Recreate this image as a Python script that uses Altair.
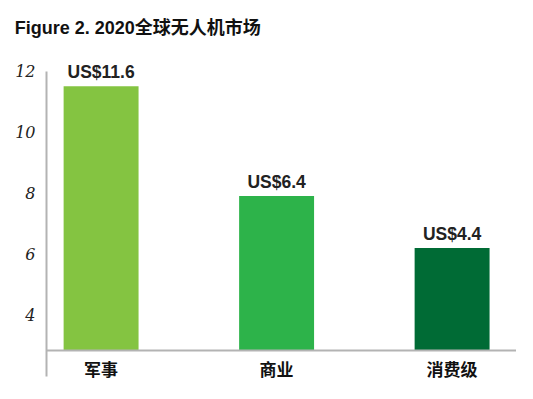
import altair as alt
import pandas as pd

categories = ["军事", "商业", "消费级"]
bar_values = [11.5, 7.9, 6.2]
value_labels = ["US$11.6", "US$6.4", "US$4.4"]
colors = ["#84c441", "#2db34a", "#006b35"]
baseline = 2.84
y_ticks = [4, 6, 8, 10, 12]

df = pd.DataFrame({
    "cat": categories,
    "val": bar_values,
    "label": value_labels,
    "base": [baseline] * 3,
    "catpos": [2.15] * 3,
})

W, H = 470, 305

xscale = alt.Scale(domain=categories, paddingInner=0.573, paddingOuter=0.1255, align=0.4)
yscale = alt.Scale(domain=[2, 12], nice=False, zero=False)

base = alt.Chart(df)

bars = base.mark_bar().encode(
    x=alt.X("cat:N", scale=xscale, sort=categories, axis=None),
    y=alt.Y("val:Q", scale=yscale,
            axis=alt.Axis(values=y_ticks, title=None, grid=False, ticks=False,
                          domainColor="#b3b3b3", domainWidth=2,
                          labelFont="DejaVu Serif", labelFontStyle="italic",
                          labelFontSize=16, labelColor="#222222", labelPadding=11)),
    y2="base:Q",
    color=alt.Color("cat:N", scale=alt.Scale(domain=categories, range=colors), legend=None),
)

labels = base.mark_text(
    baseline="alphabetic", align="center", dy=-8,
    font="Liberation Sans", fontWeight="bold", fontSize=17.5, color="#222222",
).encode(
    x=alt.X("cat:N", scale=xscale, sort=categories, axis=None),
    y=alt.Y("val:Q", scale=yscale),
    text="label:N",
)

xlabels = base.mark_text(
    baseline="middle", align="center",
    font="Noto Sans CJK SC", fontWeight="bold", fontSize=17, color="#111111",
).encode(
    x=alt.X("cat:N", scale=xscale, sort=categories, axis=None),
    y=alt.Y("catpos:Q", scale=yscale),
    text="cat:N",
)

xaxis_line = alt.Chart(pd.DataFrame({"b": [baseline]})).mark_rule(
    color="#b3b3b3", strokeWidth=2
).encode(y=alt.Y("b:Q", scale=yscale))

chart = alt.layer(bars, xaxis_line, labels, xlabels).properties(
    width=W, height=H,
    padding={"left": 6, "top": 12, "right": 5, "bottom": 5},
    title=alt.Title("Figure 2. 2020全球无人机市场", anchor="start",
                    font="Liberation Sans, Noto Sans CJK SC", fontWeight="bold",
                    fontSize=18, color="#111111", offset=25),
).configure_view(stroke=None)

chart.save("out.html", embed_options={"renderer": "svg", "actions": False})
